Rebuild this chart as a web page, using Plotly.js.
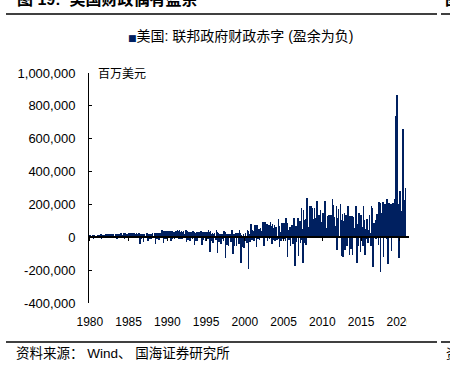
<!DOCTYPE html>
<html>
<head>
<meta charset="utf-8">
<script src="https://cdn.plot.ly/plotly-3.0.1.min.js"></script>
<style>
  html, body { margin: 0; padding: 0; background: #fff; }
  #wrap { position: relative; width: 450px; height: 367px; overflow: hidden; }
  #chart { width: 450px; height: 367px; }
  #clip { position: absolute; left: 407px; top: 310px; width: 43px; height: 22px; background: #fff; }
</style>
</head>
<body>
<div id="wrap"><div id="chart"></div><div id="clip"></div></div>
<script>
// Monthly US federal deficit (surplus negative), millions of USD
// Series starts October 1980
const startYear = 1980, startMonth = 10;

const deficit1980s = [
  15000, 13000, 6000,                                                               // 1980 Oct-Dec
  7000, 14000, 16000, -8000, 12000, -3000, 10000, 8000, -2000, 13000, 11000, 9000,  // 1981
  5000, 15000, 18000, -5000, 15000, 1000, 14000, 13000, 2000, 19000, 20000, 14000,  // 1982
  15000, 22000, 21000, 3000, 22000, 4000, 19000, 18000, 2000, 21000, 22000, 10000,  // 1983
  10000, 23000, 20000, -6000, 20000, -2000, 19000, 20000, 1000, 24000, 23000, 12000,// 1984
  8000, 24000, 25000, -5000, 24000, 3000, 22000, 23000, -2000, 28000, 26000, 15000, // 1985
  6000, 27000, 27000, -4000, 25000, 2000, 24000, 21000, -3000, 25000, 22000, 11000, // 1986
  -3000, 25000, 24000, -42000, 20000, -12000, 18000, 17000, -28000, 22000, 21000, 6000, // 1987
  2000, 27000, 27000, -20000, 23000, -9000, 22000, 20000, -8000, 23000, 26000, 3000,   // 1988
  -4000, 26000, 25000, -40000, 24000, -13000, 21000, 24000, -15000, 25000, 24000, 6000 // 1989
];
const deficit1990s = [
  2000, 43000, 38000, -32000, 38000, -6000, 34000, 40000, -13000, 32000, 38000, 8000,    // 1990
  1000, 37000, 13000, -21000, 36000, -12000, 28000, 34000, -5000, 33000, 36000, 21000,   // 1991
  12000, 44000, 41000, -8000, 45000, -5000, 31000, 36000, -10000, 35000, 39000, 17000,   // 1992
  2000, 45000, 42000, -30000, 38000, -19000, 33000, 34000, -21000, 32000, 35000, 6000,   // 1993
  -8000, 40000, 34000, -47000, 28000, -22000, 25000, 32000, -25000, 27000, 34000, 1000,  // 1994
  -3000, 40000, 35000, -48000, 33000, -16000, 28000, 31000, -20000, 25000, 30000, 6000,  // 1995
  -10000, 44000, 33000, -88000, 36000, -25000, 21000, 26000, -32000, 22000, 29000, -2000,// 1996
  -19000, 42000, 30000, -96000, 27000, -28000, 17000, 23000, -40000, 16000, 23000, -8000,// 1997
  -21000, 40000, 33000, -125000, 22000, -45000, 13000, 23000, -53000, 12000, 21000, -18000, // 1998
  -26000, 44000, 34000, -102000, 22000, -51000, 7000, 25000, -52000, 13000, 25000, -20000   // 1999
];
const deficit2000s = [
  -41000, 43000, 27000, -157000, 12000, -62000, 8000, 17000, -67000, 6000, 29000, -24000,   // 2000
  -35000, 42000, 39000, -190000, 21000, -26000, 30000, 80000, -15000, 45000, 37000, -23000, // 2001
  13000, 75000, 64000, -60000, 72000, -8000, 41000, 48000, -17000, 59000, 40000, -1000,     // 2002
  -4000, 96000, 57000, -50000, 91000, -2000, 72000, 79000, -25000, 57000, 72000, -10000,    // 2003
  3000, 92000, 71000, -42000, 78000, -19000, 56000, 75000, -21000, 60000, 53000, -17000,    // 2004
  -5000, 113000, 70000, -58000, 35000, -23000, 56000, 86000, -5000, 65000, 84000, -9000,    // 2005
  -21000, 119000, 85000, -120000, 43000, -19000, 33000, 64000, -56000, 50000, 75000, -41000,// 2006
  -38000, 120000, 96000, -177000, 68000, -27000, 36000, 117000, -113000, 56000, 99000, -37000, // 2007
  -17000, 176000, 48000, -159000, 166000, -33000, 103000, 111000, -46000, 237000, 165000, 51000, // 2008
  63000, 193000, 192000, 21000, 190000, 94000, 181000, 111000, 47000, 176000, 120000, 92000    // 2009
];
const deficit2010s = [
  43000, 221000, 65000, 83000, 136000, 68000, 165000, 91000, 33000, 140000, 150000, 79000,     // 2010
  49000, 223000, 189000, 40000, 58000, 43000, 129000, 134000, 63000, 98000, 137000, 86000,     // 2011
  27000, 232000, 198000, 59000, 125000, 60000, 70000, 191000, -75000, 120000, 172000, -1000,   // 2012
  -3000, 204000, 107000, -113000, 139000, -117000, 98000, 148000, -75000, 91000, 135000, -53000, // 2013
  10000, 193000, 37000, -107000, 130000, -71000, 95000, 129000, -106000, 122000, 57000, -2000,  // 2014
  18000, 192000, 53000, -157000, 82000, -52000, 149000, 64000, -91000, 136000, 65000, 14000,    // 2015
  -55000, 193000, 108000, -106000, 53000, -6000, 113000, 107000, -33000, 45000, 137000, 27000,  // 2016
  -51000, 192000, 176000, -182000, 88000, 90000, 43000, 108000, -8000, 63000, 139000, 23000,    // 2017
  -49000, 215000, 209000, -214000, 147000, 75000, 77000, 214000, -119000, 100000, 205000, 14000,// 2018
  -9000, 234000, 147000, -160000, 208000, 8000, 120000, 200000, -83000, 134000, 209000, 13000   // 2019
];
const deficit2020s = [
  33000, 235000, 119000, 738000, 399000, 864000, 63000, 200000, -125000, 284000, 145000, 144000, // 2020
  163000, 311000, 660000, 226000, 132000, 174000, 302000                                        // 2021 Jan-Jul
];

const yTickVals = [-400000, -200000, 0, 200000, 400000, 600000, 800000, 1000000];
const yTickText = ['-400,000', '-200,000', '0', '200,000', '400,000', '600,000', '800,000', '1,000,000'];
const xTickYears = [1980, 1985, 1990, 1995, 2000, 2005, 2010, 2015, 2020];

const values = [].concat(deficit1980s, deficit1990s, deficit2000s, deficit2010s, deficit2020s);
const dates = values.map((v, i) => {
  const m = startMonth - 1 + i;
  const y = startYear + Math.floor(m / 12);
  const mm = String(m % 12 + 1).padStart(2, '0');
  return y + '-' + mm + '-01';
});
const pad2 = n => String(n).padStart(2, '0');
const xTickVals = xTickYears.map(y => y + '-' + pad2(startMonth) + '-01');
const xTickText = xTickYears.map(String);

// layout geometry
const W = 450, H = 367, L = 89, R = 41, T = 73, B = 64;
const pw = W - L - R, ph = H - T - B;
const px = x => (x - L) / pw;
const py = y => (H - B - y) / ph;
const yRange = [-400000, 1000000];

const FONT = 'Liberation Sans, Arial, Noto Sans CJK SC, sans-serif';
const CJK = 'Liberation Sans, Arial, Noto Sans CJK SC, sans-serif';
const NAVY = '#002060';

const trace = {
  type: 'bar',
  x: dates,
  y: values,
  marker: { color: NAVY, line: { width: 0 } },
  hoverinfo: 'skip',
  showlegend: false
};

const layout = {
  width: W, height: H,
  margin: { l: L, r: R, t: T, b: B, pad: 0 },
  paper_bgcolor: '#fff', plot_bgcolor: '#fff',
  bargap: 0,
  showlegend: false,
  font: { family: FONT, size: 12, color: '#000' },
  xaxis: {
    type: 'date',
    range: ['1980-08-24', '2021-12-06'],
    anchor: 'free',
    position: -yRange[0] / (yRange[1] - yRange[0]),
    showline: true, linecolor: '#000', linewidth: 2,
    ticks: 'outside', ticklen: 3, tickcolor: '#000', tickwidth: 1,
    tickmode: 'array', tickvals: xTickVals, ticktext: xTickText,
    ticklabelstandoff: 70,
    tickfont: { family: FONT, size: 12, color: '#000' },
    showgrid: false, zeroline: false,
    layer: 'above traces', fixedrange: true
  },
  yaxis: {
    range: yRange,
    showline: true, linecolor: '#000', linewidth: 1,
    ticks: 'inside', ticklen: 3, tickcolor: '#000', tickwidth: 1,
    tickmode: 'array', tickvals: yTickVals, ticktext: yTickText,
    ticklabelstandoff: 10,
    tickfont: { family: FONT, size: 13, color: '#000' },
    showgrid: false, zeroline: false, fixedrange: true
  },
  shapes: [
    { type: 'line', xref: 'paper', yref: 'paper', x0: px(6), x1: px(437), y0: py(14), y1: py(14), line: { color: '#000', width: 1.5 } },
    { type: 'line', xref: 'paper', yref: 'paper', x0: px(441), x1: px(452), y0: py(14), y1: py(14), line: { color: '#000', width: 1.5 } },
    { type: 'line', xref: 'paper', yref: 'paper', x0: px(6), x1: px(437), y0: py(342), y1: py(342), line: { color: '#000', width: 1.5 } },
    { type: 'line', xref: 'paper', yref: 'paper', x0: px(441), x1: px(452), y0: py(342), y1: py(342), line: { color: '#000', width: 1.5 } }
  ],
  annotations: [
    { text: '<b>图 19:  美国财政偶有盈余</b>', xref: 'paper', yref: 'paper', x: px(15), y: py(-1),
      xanchor: 'left', yanchor: 'middle', showarrow: false, font: { family: CJK, size: 16, color: '#000' } },
    { text: '<b>图</b>', xref: 'paper', yref: 'paper', x: px(443), y: py(-1),
      xanchor: 'left', yanchor: 'middle', showarrow: false, font: { family: CJK, size: 16, color: '#000' } },
    { text: '<span style="font-family:DejaVu Sans;font-size:9px;color:' + NAVY + '">■</span>美国: 联邦政府财政赤字 (盈余为负)',
      xref: 'paper', yref: 'paper', x: px(126), y: py(36),
      xanchor: 'left', yanchor: 'middle', showarrow: false, font: { family: CJK, size: 14, color: '#000' } },
    { text: '百万美元', xref: 'paper', yref: 'paper', x: px(96), y: py(74),
      xanchor: 'left', yanchor: 'middle', showarrow: false, font: { family: CJK, size: 12, color: '#000' } },
    { text: '资料来源： Wind、 国海证券研究所', xref: 'paper', yref: 'paper', x: px(14), y: py(353),
      xanchor: 'left', yanchor: 'middle', showarrow: false, font: { family: CJK, size: 13.5, color: '#000' } },
    { text: '资', xref: 'paper', yref: 'paper', x: px(444), y: py(353),
      xanchor: 'left', yanchor: 'middle', showarrow: false, font: { family: CJK, size: 13, color: '#000' } }
  ]
};

Plotly.newPlot('chart', [trace], layout, { displayModeBar: false, responsive: false });
</script>
</body>
</html>
